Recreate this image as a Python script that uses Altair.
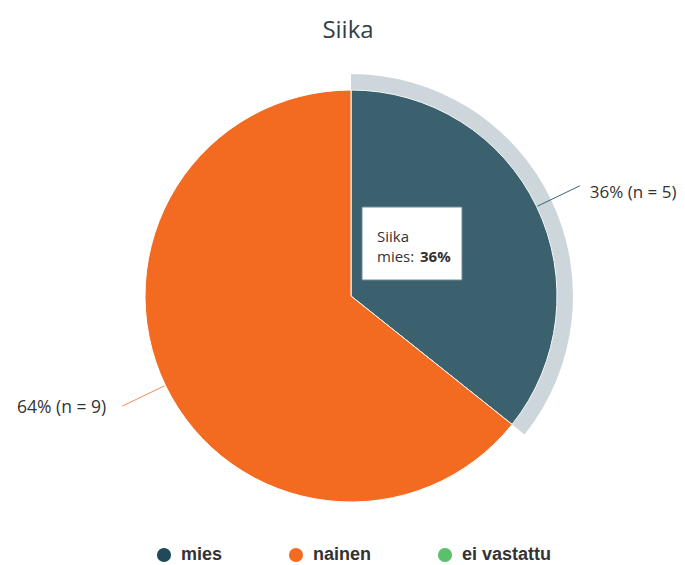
import altair as alt
import numpy as np
import pandas as pd

title_text = "Siika"
categories = ["mies", "nainen", "ei vastattu"]
counts = [5, 9, 0]
colors = ["#1f4a59", "#f26b21", "#5cbf6a"]
label_texts = ["36% (n = 5)", "64% (n = 9)"]
tooltip_lines = ["Siika", "mies:", "36%"]

# layout (chart pixel coords, page = chart + 8)
CX, CY, R = 343, 288, 206
HALO = 222

vals = np.array(counts[:2], dtype=float)
total = vals.sum()
t1 = np.cumsum(vals) / total * 2 * np.pi
t0 = np.concatenate([[0.0], t1[:-1]])
mid = (t0 + t1) / 2

df = pd.DataFrame({
    "cat": categories[:2],
    "n": counts[:2],
    "t0": t0,
    "t1": t1,
    "label": label_texts,
    "ax": CX + (R + 1) * np.sin(mid),
    "ay": CY - (R + 1) * np.cos(mid),
    "bx": CX + 254 * np.sin(mid),
    "by": CY - 254 * np.cos(mid),
    "lcol": ["#3b6371", "#f58a55"],
})

base = alt.Chart(df)
color_scale = alt.Scale(domain=categories, range=colors)

connectors = base.mark_rule(strokeWidth=1).encode(
    x=alt.X("ax:Q", scale=None),
    y=alt.Y("ay:Q", scale=None),
    x2="bx:Q",
    y2="by:Q",
    color=alt.Color("lcol:N", scale=None),
)

halo = base.transform_filter(alt.datum.cat == "mies").mark_arc(
    radius=HALO, radius2=R - 1, color="#cdd6da"
).encode(
    theta=alt.Theta("t0:Q", scale=None),
    theta2="t1:Q",
    x=alt.value(CX),
    y=alt.value(CY),
)

arcs = base.mark_arc(radius=R, stroke="white", strokeWidth=1).encode(
    theta=alt.Theta("t0:Q", scale=None),
    theta2="t1:Q",
    x=alt.value(CX),
    y=alt.value(CY),
    color=alt.Color(
        "cat:N",
        scale=color_scale,
        legend=alt.Legend(
            title=None,
            orient="none",
            direction="horizontal",
            legendX=147,
            legendY=538,
            symbolType="circle",
            symbolSize=200,
            symbolStrokeWidth=0,
            labelFont="Liberation Sans",
            labelFontSize=18,
            labelFontWeight="bold",
            labelColor="#333333",
            columnPadding=64,
            labelOffset=8,
        ),
    ),
    opacity=alt.condition(alt.datum.cat == "mies", alt.value(0.87), alt.value(1.0)),
)

lab_right = base.transform_filter(alt.datum.cat == "mies").mark_text(
    align="left", baseline="middle", font="Open Sans", fontSize=17, color="#333333", dx=10, dy=7
).encode(x=alt.X("bx:Q", scale=None), y=alt.Y("by:Q", scale=None), text="label:N")

lab_left = base.transform_filter(alt.datum.cat == "nainen").mark_text(
    align="right", baseline="middle", font="Open Sans", fontSize=17.5, color="#333333", dx=-16, dy=2
).encode(x=alt.X("bx:Q", scale=None), y=alt.Y("by:Q", scale=None), text="label:N")

# tooltip annotation
tip_df = pd.DataFrame({"a": [0]})
tip = alt.Chart(tip_df)
tip_box = tip.mark_rect(fill="white", stroke="#6f8a94", strokeWidth=1).encode(
    x=alt.value(354), x2=alt.value(454), y=alt.value(199), y2=alt.value(272)
)
tip_l1 = tip.mark_text(align="left", baseline="alphabetic", font="Open Sans", fontSize=15, color="#333333").encode(
    x=alt.value(369), y=alt.value(234), text=alt.value(tooltip_lines[0])
)
tip_l2 = tip.mark_text(align="left", baseline="alphabetic", font="Open Sans", fontSize=15, color="#333333").encode(
    x=alt.value(369), y=alt.value(254), text=alt.value(tooltip_lines[1])
)
tip_l3 = tip.mark_text(align="left", baseline="alphabetic", font="Open Sans", fontSize=15, fontWeight="bold", color="#333333").encode(
    x=alt.value(412), y=alt.value(254), text=alt.value(tooltip_lines[2])
)
title = tip.mark_text(align="center", baseline="alphabetic", font="Open Sans", fontSize=24, color="#333e48").encode(
    x=alt.value(340), y=alt.value(30), text=alt.value(title_text)
)

chart = alt.layer(
    halo, arcs, connectors, lab_right, lab_left, tip_box, tip_l1, tip_l2, tip_l3, title
).properties(
    width=669, height=557, padding=0, autosize="none"
).configure_view(stroke=None)

chart.save("out.html", embed_options={"renderer": "svg", "actions": False})
